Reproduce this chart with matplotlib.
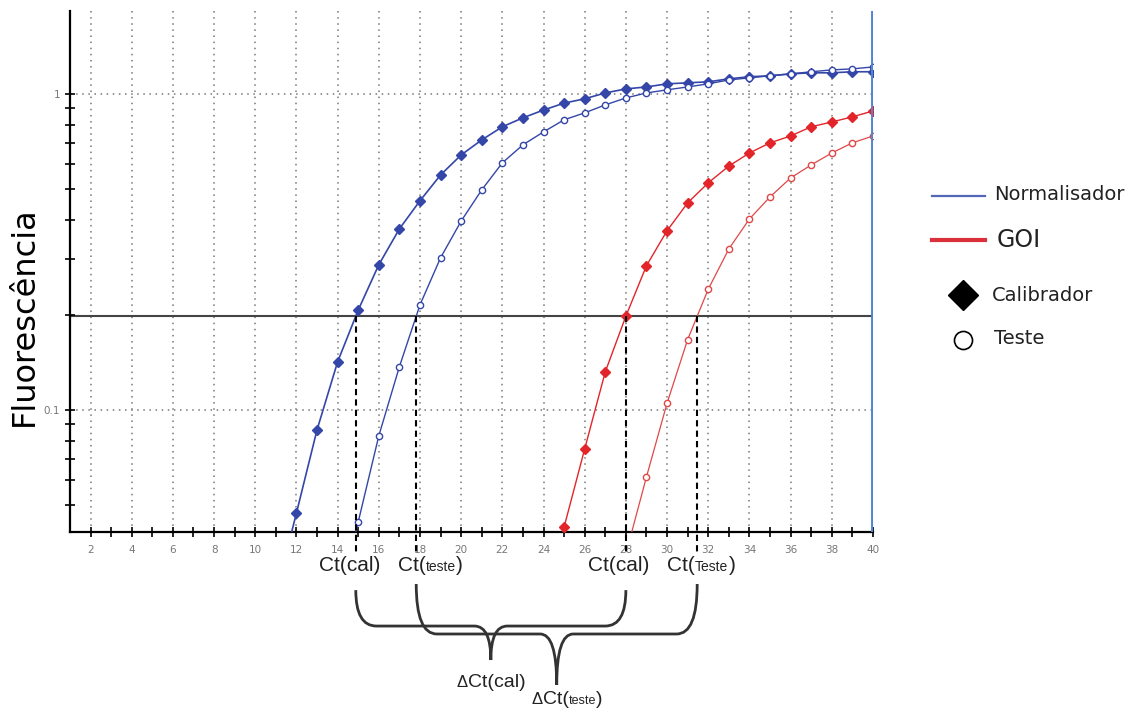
import matplotlib
matplotlib.use('Agg')
import matplotlib.pyplot as plt
import numpy as np
from matplotlib.lines import Line2D
from matplotlib.path import Path
from matplotlib.patches import PathPatch
from matplotlib.offsetbox import TextArea, HPacker, AnnotationBbox
from matplotlib.transforms import blended_transform_factory
from matplotlib.ticker import LogLocator, FixedLocator, NullFormatter, FixedFormatter

# Ciclos e fluorescencia (pontos abaixo do eixo so servem para o traco)
ciclos_norm_cal = list(range(11, 41))
fluo_norm_cal = [0.026, 0.0472, 0.0865, 0.142, 0.207, 0.288, 0.374, 0.459, 0.554, 0.641,
                 0.715, 0.787, 0.840, 0.889, 0.935, 0.965, 1.007, 1.037, 1.052, 1.076,
                 1.084, 1.092, 1.116, 1.133, 1.141, 1.157, 1.166, 1.166, 1.175, 1.175]

ciclos_norm_teste = list(range(14, 41))
fluo_norm_teste = [0.024, 0.0442, 0.0828, 0.137, 0.215, 0.303, 0.396, 0.497, 0.605, 0.690,
                   0.758, 0.828, 0.871, 0.923, 0.971, 1.007, 1.030, 1.052, 1.076, 1.107,
                   1.124, 1.141, 1.157, 1.175, 1.191, 1.200, 1.217]

ciclos_goi_cal = list(range(24, 41))
fluo_goi_cal = [0.024, 0.0426, 0.0753, 0.132, 0.198, 0.286, 0.369, 0.452, 0.523, 0.591,
                0.650, 0.700, 0.736, 0.787, 0.815, 0.846, 0.883]

ciclos_goi_teste = list(range(28, 41))
fluo_goi_teste = [0.035, 0.0614, 0.105, 0.167, 0.241, 0.323, 0.402, 0.472, 0.542, 0.596,
                  0.650, 0.700, 0.736]

limiar = 0.198
xticks_maiores = list(range(2, 41, 2))

AZUL = '#3446a8'
VERMELHO = '#e2252a'
AZUL_CLARO = '#4f86cf'

plt.rcParams['font.family'] = ['DejaVu Sans']

fig = plt.figure(figsize=(11.45, 7.11), dpi=100)
ax = fig.add_axes([0.0611, 0.2518, 0.7013, 0.7328])
ax.set_xlim(1, 40)
ax.set_yscale('log')
ax.set_ylim(0.0411, 1.83)


def ct(x, y):
    """Ciclo onde a curva cruza o limiar (interpolacao em log)."""
    x = np.array(x, float)
    ly = np.log10(y)
    return float(np.interp(np.log10(limiar), ly, x))


# grelha pontilhada
for xv in xticks_maiores[:-1]:
    ax.axvline(xv, color='#777777', ls=(0, (1, 3)), lw=1.1, zorder=0)
for yv in [0.1, 1]:
    ax.axhline(yv, color='#777777', ls=(0, (1, 3)), lw=1.1, zorder=0)

# limiar
ax.axhline(limiar, color='#444444', lw=1.5, zorder=1)
ax.axvline(40, color=AZUL_CLARO, lw=2.8, zorder=5)

ax.plot(ciclos_norm_cal, fluo_norm_cal, color=AZUL, lw=1.2, marker='D', ms=5.5,
        mfc=AZUL, mec=AZUL, zorder=3)
ax.plot(ciclos_norm_teste, fluo_norm_teste, color=AZUL, lw=1.0, marker='o', ms=4.5,
        mfc='white', mec=AZUL, mew=1.0, zorder=3)
ax.plot(ciclos_goi_cal, fluo_goi_cal, color=VERMELHO, lw=1.0, marker='D', ms=5.5,
        mfc=VERMELHO, mec=VERMELHO, zorder=3)
ax.plot(ciclos_goi_teste, fluo_goi_teste, color='#e04848', lw=0.9, marker='o', ms=4.5,
        mfc='white', mec='#e04848', mew=1.0, zorder=3)

ct_norm_cal = ct(ciclos_norm_cal, fluo_norm_cal)
ct_norm_teste = ct(ciclos_norm_teste, fluo_norm_teste)
ct_goi_cal = ct(ciclos_goi_cal, fluo_goi_cal)
ct_goi_teste = ct(ciclos_goi_teste, fluo_goi_teste)

# linhas tracejadas do Ct ate abaixo do eixo
for c in [ct_norm_cal, ct_norm_teste, ct_goi_cal, ct_goi_teste]:
    ax.plot([c, c], [limiar, 0.0411 * 0.85], color='black', ls=(0, (3, 2)), lw=1.5,
            clip_on=False, zorder=4)

# eixos
for s in ['top', 'right']:
    ax.spines[s].set_visible(False)
for s in ['left', 'bottom']:
    ax.spines[s].set_linewidth(1.6)
ax.xaxis.set_major_locator(FixedLocator(xticks_maiores))
ax.xaxis.set_minor_locator(FixedLocator(list(range(3, 40, 2))))
ax.yaxis.set_major_locator(FixedLocator([0.1, 1]))
ax.yaxis.set_major_formatter(FixedFormatter(['0.1', '1']))
ax.yaxis.set_minor_locator(LogLocator(base=10, subs=np.arange(2, 10)))
ax.yaxis.set_minor_formatter(NullFormatter())
ax.tick_params(which='both', direction='inout', length=7, width=1.2, colors='black',
               labelcolor='#777777', labelsize=7.5)
ax.tick_params(axis='x', pad=6)
ax.set_ylabel('Fluorescência', fontsize=23)
ax.yaxis.set_label_coords(-0.037, 0.415)

# legenda manual
fig.add_artist(Line2D([0.814, 0.860], [0.724, 0.724], color='#5466b8', lw=1.6,
                      transform=fig.transFigure))
fig.add_artist(Line2D([0.814, 0.860], [0.662, 0.662], color='#d9303a', lw=3,
                      transform=fig.transFigure))
fig.add_artist(Line2D([0.841], [0.585], marker='D', ms=15, color='black',
                      transform=fig.transFigure))
fig.add_artist(Line2D([0.841], [0.522], marker='o', ms=13, mfc='white', mec='black',
                      mew=1.2, transform=fig.transFigure))
fig.text(0.868, 0.726, 'Normalisador', fontsize=14, va='center', color='#222222')
fig.text(0.870, 0.662, 'GOI', fontsize=17, va='center', color='#222222')
fig.text(0.866, 0.585, 'Calibrador', fontsize=14, va='center', color='#222222')
fig.text(0.868, 0.524, 'Teste', fontsize=14, va='center', color='#222222')

trans = blended_transform_factory(ax.transData, fig.transFigure)


def rotulo(x, y, partes):
    filhos = [TextArea(t, textprops=dict(size=s, family='Liberation Sans', color='#222222'))
              for t, s in partes]
    caixa = HPacker(children=filhos, align='baseline', pad=0, sep=0)
    ab = AnnotationBbox(caixa, (x, y), xycoords=trans, frameon=False,
                        box_alignment=(0.5, 0.5), annotation_clip=False)
    ax.add_artist(ab)


rotulo(ct_norm_cal - 0.3, 0.205, [('Ct(cal)', 15)])
rotulo(ct_norm_teste + 0.7, 0.205, [('Ct(', 15), ('teste', 10), (')', 15)])
rotulo(ct_goi_cal - 0.35, 0.205, [('Ct(cal)', 15)])
rotulo(ct_goi_teste + 0.2, 0.205, [('Ct(', 15), ('Teste', 10), (')', 15)])


def chave(xa, xb, y_topo, y_meio, y_ponta, r=1.0, rp=0.8):
    xm = (xa + xb) / 2
    verts = [(xa, y_topo), (xa, y_meio), (xa + r, y_meio), (xm - rp, y_meio),
             (xm, y_meio), (xm, y_ponta), (xm, y_meio), (xm + rp, y_meio),
             (xb - r, y_meio), (xb, y_meio), (xb, y_topo)]
    codes = [Path.MOVETO, Path.CURVE3, Path.CURVE3, Path.LINETO, Path.CURVE3, Path.CURVE3,
             Path.CURVE3, Path.CURVE3, Path.LINETO, Path.CURVE3, Path.CURVE3]
    p = PathPatch(Path(verts, codes), fill=False, lw=2.0, ec='#333333',
                  transform=trans, clip_on=False)
    fig.add_artist(p)
    return xm


xm1 = chave(ct_norm_cal, ct_goi_cal, 0.170, 0.1195, 0.0717)
xm2 = chave(ct_norm_teste, ct_goi_teste, 0.1786, 0.1083, 0.0366)
rotulo(xm1, 0.040, [('\u0394', 12), ('Ct(cal)', 14)])
rotulo(xm2 + 0.5, 0.016, [('\u0394', 12), ('Ct(', 14), ('teste', 9), (')', 14)])

fig.savefig('out.png', dpi=100)
